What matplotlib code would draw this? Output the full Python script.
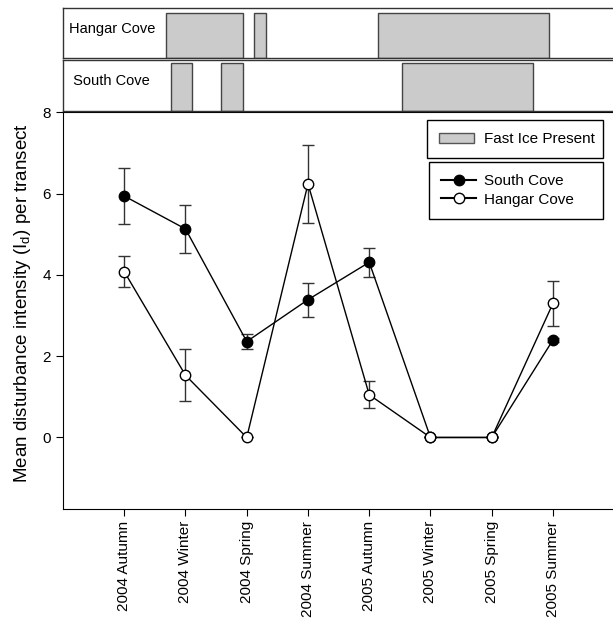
import matplotlib
matplotlib.use('Agg')
import matplotlib.pyplot as plt
from matplotlib.patches import Patch
from matplotlib.lines import Line2D

plt.rcParams['font.family'] = ['Liberation Sans', 'DejaVu Sans']

# Datos
estaciones = ['2004 Autumn', '2004 Winter', '2004 Spring', '2004 Summer',
              '2005 Autumn', '2005 Winter', '2005 Spring', '2005 Summer']
south_media = [5.94, 5.13, 2.36, 3.39, 4.31, 0.0, 0.0, 2.40]
south_err = [0.68, 0.59, 0.18, 0.42, 0.36, 0.0, 0.0, 0.05]
hangar_media = [4.08, 1.53, 0.0, 6.24, 1.05, 0.0, 0.0, 3.30]
hangar_err = [0.38, 0.64, 0.0, 0.96, 0.33, 0.0, 0.0, 0.56]

# Periodos con hielo fijo (en unidades del eje x)
hangar_hielo = [(0.68, 1.94), (2.12, 2.32), (4.15, 6.94)]
south_hielo = [(0.77, 1.11), (1.58, 1.94), (4.54, 6.68)]

W, H = 613, 620
fig = plt.figure(figsize=(W / 100, H / 100), dpi=100)

gris = '#cbcbcb'
borde = '#555555'

# Eje principal
ax = fig.add_axes([63 / W, 111 / H, 550 / W, 396.7 / H])
x = list(range(len(estaciones)))

ax.errorbar(x, south_media, yerr=south_err, color='black', lw=1,
            ecolor='#333333', elinewidth=1, capsize=4.5, capthick=1,
            marker='o', markersize=7.5, markerfacecolor='black',
            markeredgecolor='black', zorder=3)
ax.errorbar(x, hangar_media, yerr=hangar_err, color='black', lw=1,
            ecolor='#333333', elinewidth=1, capsize=4.5, capthick=1,
            marker='o', markersize=7.5, markerfacecolor='white',
            markeredgecolor='black', zorder=4)

ax.set_xlim(-1, 7.98)
ax.set_ylim(-1.76, 8)
ax.set_yticks([0, 2, 4, 6, 8])
ax.set_xticks(x)
ax.set_xticklabels(estaciones, rotation=90, fontsize=11)
ax.tick_params(axis='both', direction='out', length=5, labelsize=11)
ax.spines['right'].set_visible(False)
ax.set_ylabel('Mean disturbance intensity (I$_\\mathregular{d}$) per transect',
              fontsize=13.5)
ax.yaxis.set_label_coords(-0.055, 0.52)

# Leyendas
leg1 = ax.legend(handles=[Patch(facecolor=gris, edgecolor=borde, label='Fast Ice Present')],
                 loc='upper left', bbox_to_anchor=(427 / W, 1 - 120 / H, 176 / W, 0),
                 mode='expand', bbox_transform=fig.transFigure, borderaxespad=0,
                 fancybox=False, edgecolor='black', fontsize=11,
                 handlelength=2.3, handletextpad=0.6, borderpad=0.8,
                 framealpha=1)
leg1.get_frame().set_linewidth(1)
ax.add_artist(leg1)
handles = [Line2D([], [], color='black', marker='o', markerfacecolor='black',
                  markersize=7.5, label='South Cove'),
           Line2D([], [], color='black', marker='o', markerfacecolor='white',
                  markersize=7.5, label='Hangar Cove')]
leg2 = ax.legend(handles=handles, loc='upper left',
                 bbox_to_anchor=(429 / W, 1 - 162 / H, 174 / W, 0),
                 mode='expand', bbox_transform=fig.transFigure, borderaxespad=0,
                 fancybox=False, edgecolor='black', fontsize=11,
                 handlelength=2.3, handletextpad=0.5, borderpad=0.8,
                 labelspacing=0.3, framealpha=1)
leg2.get_frame().set_linewidth(1)

# Paneles de hielo
def panel(bottom, height, periodos, nombre, tope):
    axp = fig.add_axes([63 / W, bottom / H, 560 / W, height / H])
    axp.set_xlim(-1, (623 - 124) / 61.25)
    axp.set_ylim(0, 1)
    for ini, fin in periodos:
        axp.axvspan(ini, fin, ymin=0, ymax=tope, facecolor=gris,
                    edgecolor='#444444', lw=1.0)
    axp.set_xticks([])
    axp.set_yticks([])
    axp.spines['right'].set_visible(False)
    for s in ['top', 'left', 'bottom']:
        axp.spines[s].set_linewidth(1.0)
        axp.spines[s].set_color('#333333')
    axp.text(0.01, 0.58, nombre, transform=axp.transAxes, fontsize=10.5,
             va='center', ha='left')
    return axp

panel(620 - 58, 50, hangar_hielo, 'Hangar Cove', 0.91)
panel(620 - 111, 51, south_hielo, ' South Cove', 0.94)

fig.savefig('out.png', dpi=100)
